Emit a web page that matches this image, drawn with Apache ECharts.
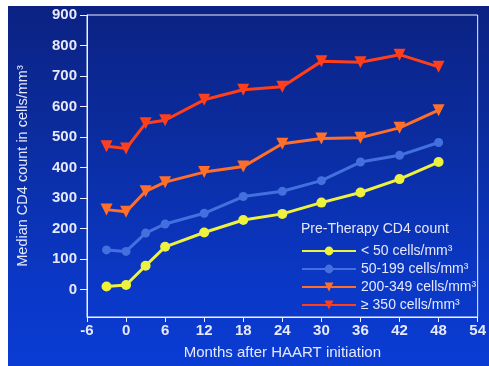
<!DOCTYPE html>
<html>
<head>
<meta charset="utf-8">
<script src="https://cdn.jsdelivr.net/npm/echarts@6/dist/echarts.min.js"></script>
<style>
  html, body { margin: 0; padding: 0; background: #ffffff; }
  #panel {
    position: absolute; left: 8px; top: 6px; width: 481px; height: 360px;
    background: linear-gradient(180deg, #0b2283 0%, #0b2c9e 35%, #0a37c4 75%, #0a3cd4 100%);
  }
  #chart { position: absolute; left: 0; top: 0; width: 489px; height: 366px; }
</style>
</head>
<body>
<div id="panel"></div>
<div id="chart"></div>
<script>
// Months after HAART initiation at which CD4 medians were measured
const months = [-3, 0, 3, 6, 12, 18, 24, 30, 36, 42, 48];

// Median CD4 count (cells/mm³) by pre-therapy CD4 stratum
const under50   = [10, 15, 78, 140, 187, 228, 248, 285, 318, 362, 418];
const from50    = [130, 125, 185, 215, 250, 305, 322, 357, 418, 440, 482];
const from200   = [262, 255, 322, 352, 385, 403, 478, 495, 498, 530, 588];
const over350   = [470, 462, 545, 555, 622, 655, 665, 748, 745, 770, 730];

const seriesNames = ['< 50 cells/mm³', '50-199 cells/mm³', '200-349 cells/mm³', '≥ 350 cells/mm³'];
const xTicks = [-6, 0, 6, 12, 18, 24, 30, 36, 42, 48, 54];
const yTicks = [0, 100, 200, 300, 400, 500, 600, 700, 800, 900];

const pairs = vals => months.map((m, i) => [m, vals[i]]);
const textColor = '#e6e8fb';
const font = 'Liberation Sans, Arial, sans-serif';

const chart = echarts.init(document.getElementById('chart'), null, { renderer: 'canvas' });

function lineSeries(name, vals, color, symbol, size) {
  const s = {
    name: name,
    type: 'line',
    data: pairs(vals),
    symbol: symbol,
    symbolSize: size,
    showSymbol: true,
    lineStyle: { color: color, width: 3 },
    itemStyle: { color: color },
    emphasis: { disabled: true },
    z: 3
  };
  if (symbol === 'triangle') s.symbolRotate = 180;
  return s;
}

chart.setOption({
  animation: false,
  backgroundColor: 'transparent',
  title: {
    text: 'Pre-Therapy CD4 count',
    left: 296, top: 217,
    textStyle: { color: textColor, fontSize: 14, fontWeight: 'normal', fontFamily: font }
  },
  legend: {
    orient: 'vertical',
    left: 296, top: 238,
    itemWidth: 54, itemHeight: 11, itemGap: 2,
    textStyle: { color: textColor, fontSize: 14, lineHeight: 16, fontFamily: font, padding: [0, 0, 0, 0] },
    data: seriesNames
  },
  grid: {
    left: 87, right: 8, top: 15, bottom: 49,
    show: true, borderColor: '#f0f0ff', borderWidth: 1, backgroundColor: 'transparent'
  },
  xAxis: {
    type: 'value',
    min: -6, max: 54, interval: 6,
    name: 'Months after HAART initiation',
    nameLocation: 'middle', nameGap: 28,
    nameTextStyle: { color: textColor, fontSize: 15, fontFamily: font },
    axisLine: { show: true, onZero: false, lineStyle: { color: '#f0f0ff', width: 1 } },
    axisTick: { show: true, length: 5, lineStyle: { color: '#f0f0ff' } },
    axisLabel: { color: textColor, fontSize: 15, fontWeight: 'bold', fontFamily: font, margin: 6,
      formatter: v => String(v) },
    splitLine: { show: false }
  },
  yAxis: {
    type: 'value',
    min: -90, max: 900,
    name: 'Median CD4 count in cells/mm³',
    nameLocation: 'middle', nameGap: 57, nameRotate: 90,
    nameTextStyle: { color: textColor, fontSize: 14.5, fontFamily: font },
    axisLine: { show: true, onZero: false, lineStyle: { color: '#f0f0ff', width: 1 } },
    axisTick: { show: true, length: 7, lineStyle: { color: '#f0f0ff' }, customValues: yTicks },
    axisLabel: { color: textColor, fontSize: 15, fontWeight: 'bold', fontFamily: font, margin: 10, customValues: yTicks },
    splitLine: { show: false }
  },
  series: [
    lineSeries(seriesNames[0], under50, '#eef23e', 'circle', 10),
    lineSeries(seriesNames[1], from50, '#4370de', 'circle', 9),
    lineSeries(seriesNames[2], from200, '#ff6f2a', 'triangle', 12),
    lineSeries(seriesNames[3], over350, '#ff3f1c', 'triangle', 12)
  ]
});
</script>
</body>
</html>
